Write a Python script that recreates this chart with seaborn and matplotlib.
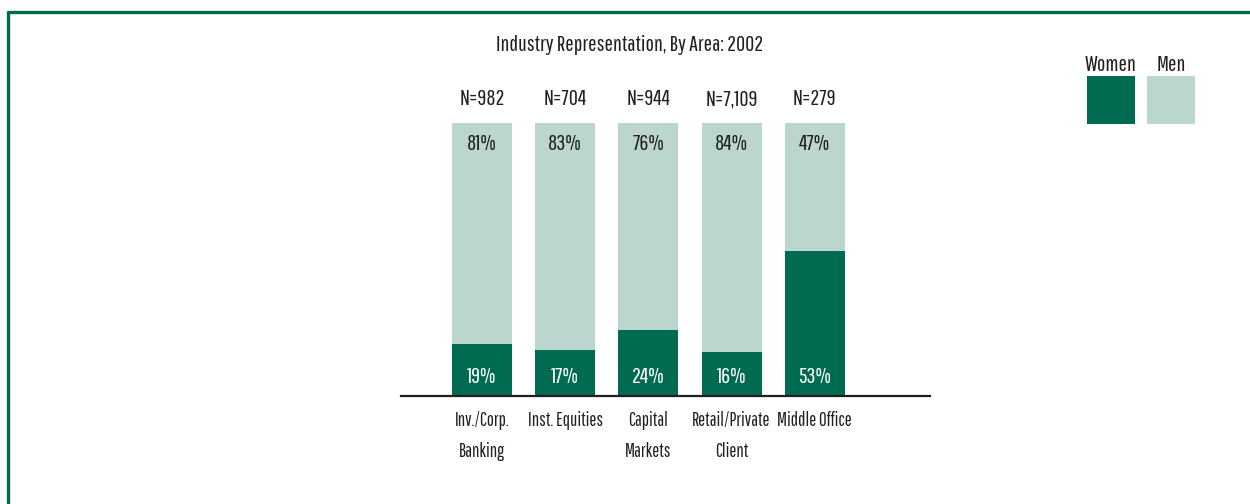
import numpy as np
import pandas as pd
import matplotlib
matplotlib.use('Agg')
import matplotlib.pyplot as plt
from matplotlib.patches import Rectangle
from matplotlib.lines import Line2D
import seaborn as sns

areas = ['Inv./Corp.\nBanking', 'Inst. Equities', 'Capital\nMarkets', 'Retail/Private\nClient', 'Middle Office']
n_counts = ['N=982', 'N=704', 'N=944', 'N=7,109', 'N=279']
women = [19, 17, 24, 16, 53]
men = [81, 83, 76, 84, 47]

dark = '#006b50'
light = '#bbd6cf'
ink = '#231f20'

sns.set_theme(style='white')
plt.rcParams['font.family'] = ['Pathway Gothic One', 'DejaVu Sans']

df = pd.DataFrame({'area': areas, 'women': women, 'men': men})
df['total'] = df['women'] + df['men']

fig = plt.figure(figsize=(12.5, 5.04), dpi=100)
ax = fig.add_axes([401 / 1250, 108 / 504, 529 / 1250, 273 / 504])

# men stacked on top of women: draw total then women over it
sns.barplot(data=df, x='area', y='total', color=light, width=0.72, saturation=1,
            linewidth=0, ax=ax)
sns.barplot(data=df, x='area', y='women', color=dark, width=0.72, saturation=1,
            linewidth=0, ax=ax)

ax.set_xlim(-0.974, 5.385)
ax.set_ylim(0, 100)
ax.set_xlabel('')
ax.set_ylabel('')
ax.set_yticks([])
for s in ['top', 'right', 'left']:
    ax.spines[s].set_visible(False)
ax.spines['bottom'].set_color(ink)
ax.spines['bottom'].set_linewidth(1.6)
ax.tick_params(axis='x', length=0, pad=11)
ax.set_xticks(range(len(areas)))
ax.set_xticklabels(areas, fontsize=13.5, color=ink, linespacing=1.75, va='top')

for i in range(len(areas)):
    total = women[i] + men[i]
    ax.annotate(f'{men[i]}%', (i, total), xytext=(0, -15), textcoords='offset points',
                ha='center', va='center', fontsize=16, color=ink)
    ax.annotate(f'{women[i]}%', (i, 0), xytext=(0, 14), textcoords='offset points',
                ha='center', va='center', fontsize=16, color='white')
    ax.annotate(n_counts[i], (i, total), xytext=(0, 17), textcoords='offset points',
                ha='center', va='center', fontsize=16, color=ink, annotation_clip=False)

fig.text(630 / 1250, 1 - 45 / 504, 'Industry Representation, By Area: 2002',
         ha='center', va='center', fontsize=16, color=ink)

# legend: label above square
for x0, lab, col in [(1087, 'Women', dark), (1147, 'Men', light)]:
    fig.patches.append(Rectangle((x0 / 1250, 1 - 124 / 504), 48 / 1250, 48 / 504,
                                 transform=fig.transFigure, color=col, lw=0))
    fig.text((x0 + 24) / 1250, 1 - 65 / 504, lab, ha='center', va='center',
             fontsize=16, color=ink)

# frame lines (top and left)
fig.lines.append(Line2D([7 / 1250, 1], [1 - 12 / 504] * 2, transform=fig.transFigure,
                        color=dark, lw=2.4, solid_capstyle='butt'))
fig.lines.append(Line2D([8 / 1250] * 2, [0, 1 - 11 / 504], transform=fig.transFigure,
                        color=dark, lw=2.4, solid_capstyle='butt'))

fig.savefig('out.png', dpi=100, facecolor='white')
